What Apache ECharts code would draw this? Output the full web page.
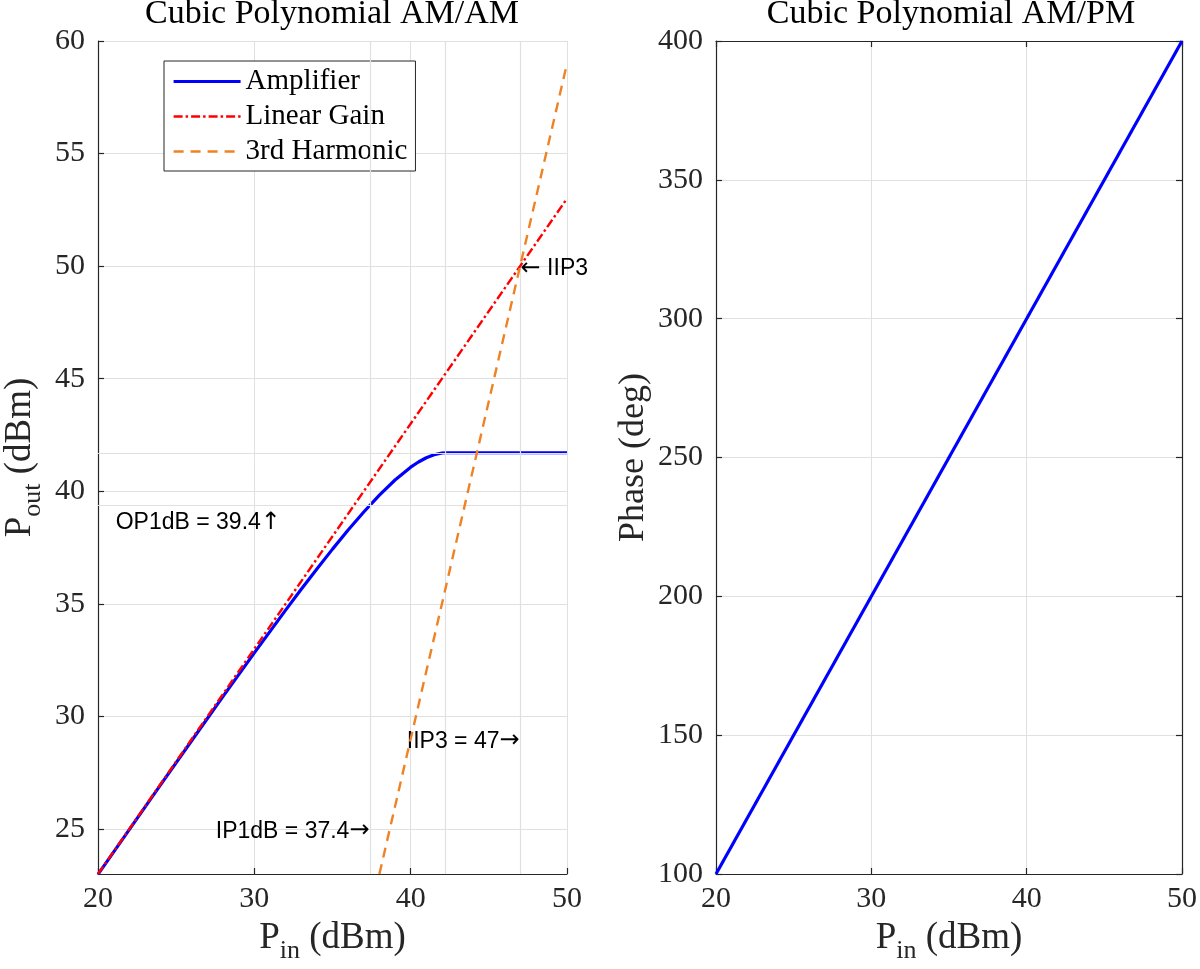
<!DOCTYPE html>
<html>
<head>
<meta charset="utf-8">
<script src="https://cdn.jsdelivr.net/npm/echarts@6/dist/echarts.min.js"></script>
<style>
  html, body { margin: 0; padding: 0; background: #fff; }
  #chart_container { width: 1200px; height: 969px; }
</style>
</head>
<body>
<div id="chart_container"></div>
<script>
// values
var amp_pin  = [20, 22, 24, 26, 28, 30, 32, 33, 34, 35, 36, 37, 38, 39, 40, 40.5, 41, 41.5, 42, 42.23, 44, 46, 48, 50];
var amp_pout = [22.98, 24.97, 26.96, 28.93, 30.89, 32.82, 34.72, 35.65, 36.55, 37.43, 38.28, 39.08, 39.83, 40.50, 41.07, 41.30, 41.49, 41.62, 41.70, 41.71, 41.71, 41.71, 41.71, 41.71];
var lin_pin  = [20, 50];
var lin_pout = [23, 53];
var h3_pin   = [38, 50];
var h3_pout  = [23, 59];
var phase_pin = [20, 50];
var phase_deg = [100, 400];

// reference lines (IP1dB, saturation, IIP3 / OP1dB, Psat)
var ref_x = [37.4, 42.2, 47];
var ref_y = [39.4, 41.7];

// annotations: [text, arrow, x, y, side]
var notes = [
    ['IIP3 = 47', '\u2192', 47, 28.9, 'left'],
    ['IP1dB = 37.4', '\u2192', 37.4, 24.9, 'left'],
    ['OP1dB = 39.4', '\u2191', 21.1, 38.6, 'right'],
    ['', '\u2190', 47, 49.9, 'right']
];

var serif = 'Liberation Serif';
var sans = 'Liberation Sans';
var axisColor = '#262626';
var gridColor = '#e0e0e0';

function zip(xs, ys) {
    var out = [];
    for (var i = 0; i < xs.length; i++) out.push([xs[i], ys[i]]);
    return out;
}

var nameRich = {
    a: { fontSize: 37, fontFamily: serif, color: axisColor },
    s: { fontSize: 26, fontFamily: serif, color: axisColor, padding: [26, 0, 0, 0] }
};

function baseAxis(extra) {
    var ax = {
        type: 'value',
        axisLine: { show: true, onZero: false, lineStyle: { color: axisColor, width: 1.2 } },
        axisTick: { show: true, inside: true, length: 6, lineStyle: { color: axisColor, width: 1.2 } },
        axisLabel: { fontFamily: serif, fontSize: 30, color: axisColor },
        splitLine: { show: true, lineStyle: { color: gridColor, width: 1 } },
        nameLocation: 'middle',
        nameTextStyle: { rich: nameRich }
    };
    for (var k in extra) ax[k] = extra[k];
    return ax;
}

var dom = document.getElementById('chart_container');
var myChart = echarts.init(dom);

var option = {
    animation: false,
    backgroundColor: '#fff',
    graphic: [
        { type: 'text', x: 332, y: -3, style: { text: 'Cubic Polynomial AM/AM', font: '34px "Liberation Serif"', fill: '#000', align: 'center', verticalAlign: 'top' } },
        { type: 'text', x: 951, y: -3, style: { text: 'Cubic Polynomial AM/PM', font: '34px "Liberation Serif"', fill: '#000', align: 'center', verticalAlign: 'top' } }
    ],
    grid: [
        { left: 98, right: 633, top: 41, bottom: 95 },
        { left: 716, right: 14, top: 41, bottom: 95 }
    ],
    legend: {
        data: ['Amplifier', 'Linear Gain', '3rd Harmonic'],
        orient: 'vertical',
        left: 164,
        top: 61,
        padding: [6, 8, 5, 8],
        itemGap: 6,
        itemWidth: 67,
        itemHeight: 14,
        borderColor: axisColor,
        borderWidth: 1,
        backgroundColor: '#fff',
        itemStyle: { color: 'rgba(0,0,0,0)', borderColor: 'rgba(0,0,0,0)', borderWidth: 0 },
        lineStyle: { width: 'inherit' },
        textStyle: { fontFamily: serif, fontSize: 29, color: '#000' }
    },
    xAxis: [
        baseAxis({ gridIndex: 0, min: 20, max: 50, interval: 10, name: '{a|P}{s|in}{a| (dBm)}', nameGap: 38,
            axisLabel: { fontFamily: serif, fontSize: 30, color: axisColor, margin: 10 } }),
        baseAxis({ gridIndex: 1, min: 20, max: 50, interval: 10, name: '{a|P}{s|in}{a| (dBm)}', nameGap: 38,
            axisLabel: { fontFamily: serif, fontSize: 30, color: axisColor, margin: 10 } }),
        baseAxis({ gridIndex: 1, min: 20, max: 50, interval: 10, position: 'top',
            axisLabel: { show: false }, splitLine: { show: false } })
    ],
    yAxis: [
        baseAxis({ gridIndex: 0, min: 23, max: 60, minInterval: 5, maxInterval: 5, name: '{a|P}{s|out}{a| (dBm)}', nameGap: 52,
            axisLabel: { fontFamily: serif, fontSize: 30, color: axisColor, margin: 13, showMinLabel: false } }),
        baseAxis({ gridIndex: 1, min: 100, max: 400, interval: 50, name: 'Phase (deg)', nameGap: 64,
            nameTextStyle: { fontFamily: serif, fontSize: 36, color: axisColor },
            axisLabel: { fontFamily: serif, fontSize: 30, color: axisColor, margin: 13 } }),
        baseAxis({ gridIndex: 1, min: 100, max: 400, interval: 50, position: 'right',
            axisLabel: { show: false }, splitLine: { show: false } })
    ],
    series: [
        {
            name: 'refs',
            type: 'line',
            xAxisIndex: 0,
            yAxisIndex: 0,
            data: [],
            z: 1,
            silent: true,
            markLine: {
                silent: true,
                symbol: 'none',
                animation: false,
                label: { show: false },
                lineStyle: { color: gridColor, width: 1.2, type: 'solid' },
                data: ref_x.map(function (v) { return { xAxis: v }; })
                    .concat(ref_y.map(function (v) { return { yAxis: v }; }))
            }
        },
        {
            name: 'Amplifier',
            type: 'line',
            xAxisIndex: 0,
            yAxisIndex: 0,
            symbol: 'none',
            showSymbol: false,
            lineStyle: { color: '#0000ff', width: 3.2 },
            itemStyle: { color: '#0000ff' },
            data: zip(amp_pin, amp_pout),
            z: 4
        },
        {
            name: 'Linear Gain',
            type: 'line',
            xAxisIndex: 0,
            yAxisIndex: 0,
            symbol: 'none',
            showSymbol: false,
            lineStyle: { color: '#ff0000', width: 2.4, type: [9, 3, 2.5, 3] },
            itemStyle: { color: '#ff0000' },
            data: zip(lin_pin, lin_pout),
            z: 5
        },
        {
            name: '3rd Harmonic',
            type: 'line',
            xAxisIndex: 0,
            yAxisIndex: 0,
            symbol: 'none',
            showSymbol: false,
            lineStyle: { color: '#ef8224', width: 2.4, type: [10, 7] },
            itemStyle: { color: '#ef8224' },
            data: zip(h3_pin, h3_pout),
            z: 5
        },
        {
            name: 'notes',
            type: 'line',
            xAxisIndex: 0,
            yAxisIndex: 0,
            data: [],
            z: 6,
            silent: true,
            markPoint: {
                silent: true,
                animation: false,
                symbol: 'circle',
                symbolSize: 1,
                itemStyle: { color: 'transparent' },
                data: notes.map(function (n) {
                    var txt = n[4] === 'left' || n[1] === '\u2191'
                        ? '{t|' + n[0] + '}{ar|' + n[1] + '}'
                        : '{ar|' + n[1] + '}{t| IIP3}';
                    return {
                        coord: [n[2], n[3]],
                        label: {
                            show: true,
                            formatter: txt,
                            position: n[4],
                            distance: 0,
                            rich: {
                                t: { fontFamily: sans, fontSize: 23, color: '#000' },
                                ar: { fontFamily: 'DejaVu Sans', fontSize: 24, color: '#000' }
                            }
                        }
                    };
                })
            }
        },
        {
            name: 'Phase',
            type: 'line',
            xAxisIndex: 1,
            yAxisIndex: 1,
            symbol: 'none',
            showSymbol: false,
            lineStyle: { color: '#0000ff', width: 3.2 },
            data: zip(phase_pin, phase_deg),
            z: 4
        }
    ]
};

myChart.setOption(option, true);
</script>
</body>
</html>
